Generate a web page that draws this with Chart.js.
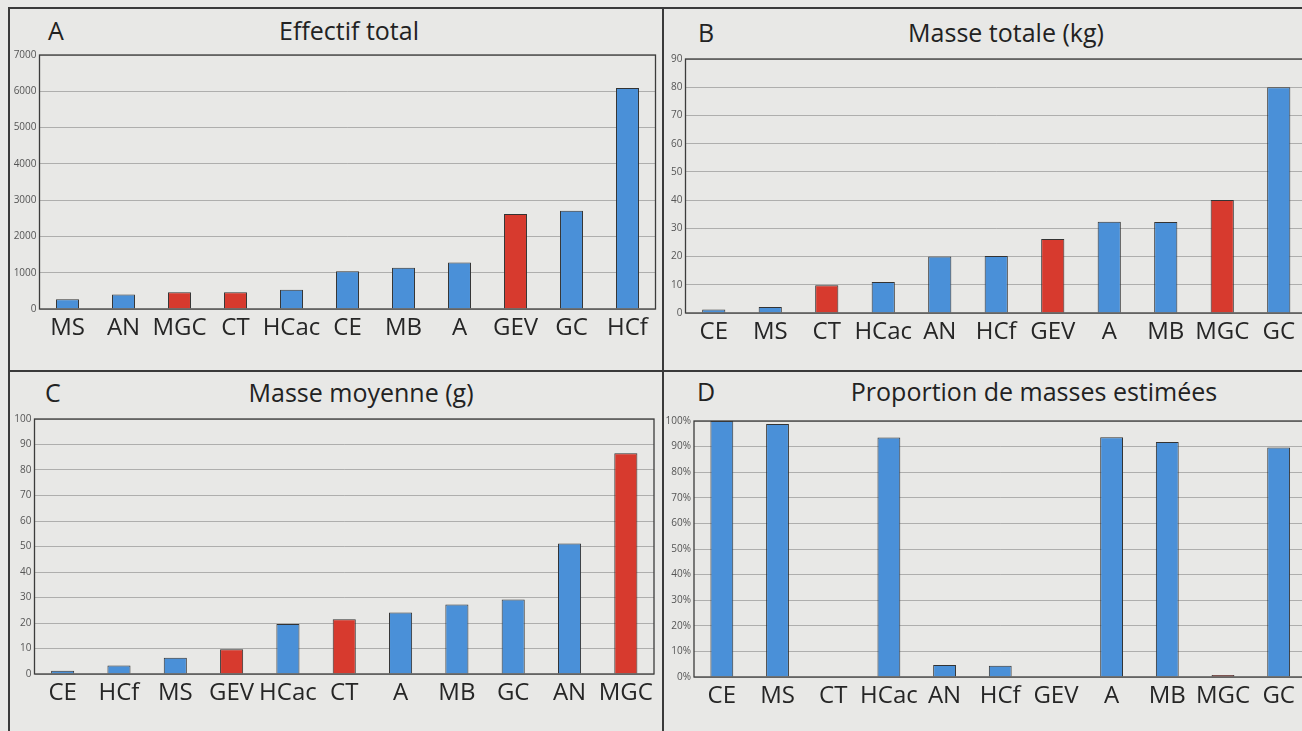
<!DOCTYPE html>
<html>
<head>
<meta charset="utf-8">
<script src="https://cdn.jsdelivr.net/npm/chart.js@4.4.1/dist/chart.umd.min.js"></script>
<style>
  html, body { margin:0; padding:0; width:1302px; height:731px; overflow:hidden; background:#e8e8e6; }
  body { position:relative; font-family:"Open Sans", sans-serif; }
  canvas { position:absolute; }
  .line { position:absolute; background:#3a3a3a; }
  .txt { position:absolute; font-family:"Open Sans", sans-serif; font-size:25px; line-height:1; color:#222; white-space:nowrap; }
</style>
</head>
<body>
<div class="line" style="left:8px;top:7px;width:1294px;height:2px;"></div>
<div class="line" style="left:8px;top:7px;width:2px;height:724px;"></div>
<div class="line" style="left:662px;top:7px;width:2px;height:724px;"></div>
<div class="line" style="left:8px;top:370px;width:1294px;height:2px;"></div>

<div class="txt" style="left:48px;top:18px;">A</div>
<div class="txt" style="left:349px;top:18px;transform:translateX(-50%);">Effectif total</div>
<div class="txt" style="left:698px;top:20px;">B</div>
<div class="txt" style="left:1006px;top:20px;transform:translateX(-50%);">Masse totale (kg)</div>
<div class="txt" style="left:45px;top:380px;">C</div>
<div class="txt" style="left:361px;top:380px;transform:translateX(-50%);">Masse moyenne (g)</div>
<div class="txt" style="left:697px;top:379px;">D</div>
<div class="txt" style="left:1034px;top:379px;transform:translateX(-50%);">Proportion de masses estimées</div>

<canvas id="cA"></canvas>
<canvas id="cB"></canvas>
<canvas id="cC"></canvas>
<canvas id="cD"></canvas>

<script>
// ---- Data ----
const redCategories = ['MGC', 'CT', 'GEV'];

const catsA = ['MS','AN','MGC','CT','HCac','CE','MB','A','GEV','GC','HCf'];
const valsA = [270, 400, 460, 460, 530, 1040, 1140, 1280, 2620, 2710, 6090];
const ticksA = [0, 1000, 2000, 3000, 4000, 5000, 6000, 7000];

const catsB = ['CE','MS','CT','HCac','AN','HCf','GEV','A','MB','MGC','GC'];
const valsB = [1.2, 2.1, 9.8, 11, 20, 20.2, 26.2, 32.3, 32.2, 40, 80];
const ticksB = [0, 10, 20, 30, 40, 50, 60, 70, 80, 90];

const catsC = ['CE','HCf','MS','GEV','HCac','CT','A','MB','GC','AN','MGC'];
const valsC = [1.3, 3.3, 6.4, 9.7, 19.6, 21.5, 24.1, 27.3, 29.2, 51.2, 86.6];
const ticksC = [0, 10, 20, 30, 40, 50, 60, 70, 80, 90, 100];

const catsD = ['CE','MS','CT','HCac','AN','HCf','GEV','A','MB','MGC','GC'];
const valsD = [100, 98.8, 0, 93.6, 4.7, 4.4, 0, 93.7, 91.8, 0.8, 89.6];
const ticksD = [0, 10, 20, 30, 40, 50, 60, 70, 80, 90, 100];

// ---- Style ----
const BLUE = '#4a90d8';
const RED = '#d73a2e';
const Y_W = 32, X_H = 40;

const boxPlugin = {
  id: 'box',
  afterDatasetsDraw(chart) {
    const a = chart.chartArea, ctx = chart.ctx;
    ctx.save();
    ctx.strokeStyle = '#3c3c3c';
    ctx.lineWidth = 1.3;
    ctx.strokeRect(a.left, a.top, a.right - a.left, a.bottom - a.top);
    ctx.restore();
  }
};

function makeChart(id, rect, area, cats, vals, yTicks, pct) {
  const cv = document.getElementById(id);
  cv.width = rect.w; cv.height = rect.h;
  cv.style.left = rect.x + 'px'; cv.style.top = rect.y + 'px';
  cv.style.width = rect.w + 'px'; cv.style.height = rect.h + 'px';
  const pad = {
    left: area.L - rect.x - Y_W,
    top: area.T - rect.y,
    right: rect.x + rect.w - area.R,
    bottom: rect.y + rect.h - area.B - X_H
  };
  const colors = cats.map(c => redCategories.includes(c) ? RED : BLUE);
  new Chart(cv, {
    type: 'bar',
    data: {
      labels: cats,
      datasets: [{
        data: vals,
        backgroundColor: colors,
        borderColor: '#333333',
        borderWidth: 1,
        barPercentage: 0.41,
        categoryPercentage: 1
      }]
    },
    options: {
      responsive: false,
      animation: false,
      devicePixelRatio: 1,
      layout: { padding: pad },
      plugins: { legend: { display: false }, tooltip: { enabled: false }, title: { display: false } },
      scales: {
        x: {
          afterFit(s) { s.height = X_H; },
          grid: { display: false },
          border: { display: false },
          ticks: {
            autoSkip: false, maxRotation: 0, minRotation: 0, padding: -3,
            color: '#262626',
            font: { family: 'Open Sans', size: 24 }
          }
        },
        y: {
          min: yTicks[0], max: yTicks[yTicks.length - 1],
          afterFit(s) { s.width = Y_W; },
          afterBuildTicks(s) { s.ticks = yTicks.map(v => ({ value: v })); },
          grid: { color: 'rgba(105,105,105,0.45)', lineWidth: 1, drawTicks: false },
          border: { display: false },
          ticks: {
            padding: 3,
            color: '#555',
            font: { family: 'Open Sans', size: 10 },
            callback: v => pct ? v + '%' : String(v)
          }
        }
      }
    },
    plugins: [boxPlugin]
  });
}

makeChart('cA', {x:0, y:0, w:662, h:370}, {L:39.5, T:55, R:655.5, B:309}, catsA, valsA, ticksA, false);
makeChart('cB', {x:640, y:0, w:680, h:370}, {L:685.5, T:59, R:1307, B:313}, catsB, valsB, ticksB, false);
makeChart('cC', {x:0, y:372, w:662, h:359}, {L:34.5, T:419, R:654, B:674}, catsC, valsC, ticksC, false);
makeChart('cD', {x:640, y:372, w:680, h:359}, {L:694, T:421, R:1306.5, B:677}, catsD, valsD, ticksD, true);
</script>
</body>
</html>
